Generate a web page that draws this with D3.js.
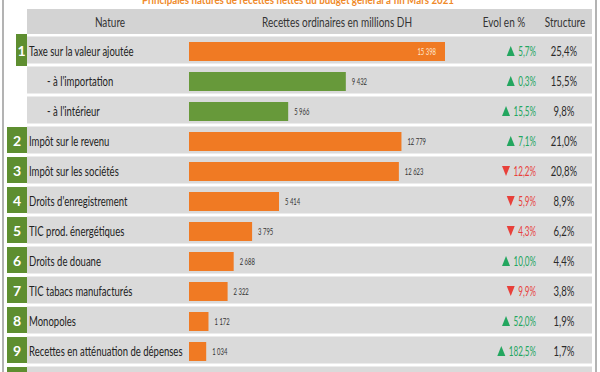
<!DOCTYPE html>
<html><head><meta charset="utf-8">
<script src="https://cdn.jsdelivr.net/npm/d3@7"></script>
<style>
html,body{margin:0;padding:0;background:#fff;}
svg{display:block;}
text{font-family:Lato,"Open Sans",sans-serif;}
</style></head>
<body><svg id="c" width="600" height="372"></svg>
<script>
const title = "Principales natures de recettes nettes du budget général à fin Mars 2021";
const headers = ["Nature", "Recettes ordinaires en millions DH", "Evol en %", "Structure"];
const categories = ["Taxe sur la valeur ajoutée", "- à l'importation", "- à l'intérieur",
  "Impôt sur le revenu", "Impôt sur les sociétés", "Droits d'enregistrement",
  "TIC prod. énergétiques", "Droits de douane", "TIC tabacs manufacturés",
  "Monopoles", "Recettes en atténuation de dépenses", ""];
const ranks = ["1", "", "", "2", "3", "4", "5", "6", "7", "8", "9", "10"];
const subRow = [false, true, true, false, false, false, false, false, false, false, false, false];
const values = [15398, 9432, 5966, 12779, 12623, 5414, 3795, 2688, 2322, 1172, 1034, 250];
const evol = [5.7, 0.3, 15.5, 7.1, -12.2, -5.9, -4.3, 10.0, -9.9, 52.0, 182.5, null];
const structure = [25.4, 15.5, 9.8, 21.0, 20.8, 8.9, 6.2, 4.4, 3.8, 1.9, 1.7, null];

const svg = d3.select("#c");
const ORANGE = "#F07A23", GREEN_BAR = "#67993A", GREEN_BOX = "#5E8E30",
      BAND = "#DADADA", UP = "#23A65F", DOWN = "#E8403A";
const fmt = v => Math.abs(v).toFixed(1).replace(".", ",") + "%";
const numFmt = v => d3.format(",")(v).replace(/,/g, " ");
// narrow text: placed at (px,py) and compressed horizontally by k
function place(sel, px, py, k) {
  return sel.attr("x", 0).attr("y", 0)
    .attr("transform", (d, j) => `translate(${px(d, j)},${py(d, j)}) scale(${k},1)`);
}

const idx = d3.range(categories.length);
const y = d3.scaleBand().domain(idx).range([35, 35 + 30 * categories.length]).padding(0);
const x = d3.scaleLinear().domain([0, 15398]).range([189, 445]);
const cy = i => y(i) + y.bandwidth() / 2;

// frame
svg.append("line").attr("x1", 3).attr("x2", 3).attr("y1", 0).attr("y2", 372).attr("stroke", "#9a9a9a").attr("stroke-width", 1.5);
svg.append("line").attr("x1", 596).attr("x2", 596).attr("y1", 0).attr("y2", 372).attr("stroke", "#9a9a9a").attr("stroke-width", 1.5);

// title
svg.append("text").attr("x", 298).attr("y", 4).attr("text-anchor", "middle")
  .attr("font-size", 11.5).attr("font-weight", "bold").attr("fill", "#F08A2A")
  .attr("textLength", 312).attr("lengthAdjust", "spacingAndGlyphs").text(title);

// header
svg.append("rect").attr("x", 27).attr("y", 9).attr("width", 565).attr("height", 25).attr("fill", "#D3D3D3");
const hx = [110, 337, 504, 565];
place(svg.selectAll("text.hd").data(headers).join("text").attr("class", "hd")
  .attr("dy", "0.35em").attr("text-anchor", "middle").attr("font-size", 13.5).attr("fill", "#333").text(h => h),
  (h, k) => hx[k], () => 22, 0.74);

// bands
svg.selectAll("rect.band").data(idx).join("rect").attr("class", "band")
  .attr("x", 27).attr("y", i => y(i) + 1.5).attr("width", 565).attr("height", y.bandwidth() - 3).attr("fill", BAND);

// number boxes
const boxed = idx.filter(i => ranks[i] !== "");
svg.selectAll("rect.box").data(boxed).join("rect").attr("class", "box")
  .attr("x", i => i === 0 ? 16 : 7).attr("y", i => i === 0 ? y(i) - 1 : y(i) + 2)
  .attr("width", i => i === 0 ? 11 : 20).attr("height", i => i === 0 ? 32 : 26).attr("fill", GREEN_BOX);
svg.selectAll("text.rank").data(boxed).join("text").attr("class", "rank")
  .attr("x", i => i === 0 ? 21.5 : 17).attr("y", i => cy(i) + 1).attr("dy", "0.35em").attr("text-anchor", "middle")
  .attr("font-size", 14).attr("font-weight", "bold").attr("fill", "#fff").text(i => ranks[i]);

// labels
place(svg.selectAll("text.lab").data(idx.filter(i => categories[i] !== "")).join("text").attr("class", "lab")
  .attr("dy", "0.35em").attr("font-size", 14).attr("fill", "#222").text(i => categories[i]),
  i => subRow[i] ? 47 : 29, i => cy(i) + 1, 0.68);

// bars
svg.selectAll("rect.bar").data(idx).join("rect").attr("class", "bar")
  .attr("x", x(0)).attr("y", i => cy(i) - 8).attr("height", 19)
  .attr("width", i => x(values[i]) - x(0)).attr("fill", i => subRow[i] ? GREEN_BAR : ORANGE);

// value labels
place(svg.selectAll("text.val").data(idx.filter(i => i < 11)).join("text").attr("class", "val")
  .attr("text-anchor", i => values[i] > 14000 ? "end" : "start")
  .attr("dy", "0.35em").attr("font-size", 9.5)
  .attr("fill", i => values[i] > 14000 ? "#fde7d2" : "#333").text(i => numFmt(values[i])),
  i => values[i] > 14000 ? x(values[i]) - 9 : x(values[i]) + 6, i => cy(i) + 2, 0.62);

// evolution
const ev = idx.filter(i => evol[i] !== null);
const EK = 0.58;
const evT = place(svg.selectAll("text.ev").data(ev).join("text").attr("class", "ev")
  .attr("dy", "0.35em").attr("text-anchor", "end")
  .attr("font-size", 14).attr("fill", i => evol[i] >= 0 ? UP : DOWN).text(i => fmt(evol[i])),
  () => 536, i => cy(i) + 1, EK);
evT.each(function(i) {
  const w = this.getComputedTextLength() * EK;
  const tx = 536 - w - 7.5, tY = cy(i) + 1;
  const up = evol[i] >= 0;
  const p = up ? `M${tx - 4},${tY + 5}L${tx + 4},${tY + 5}L${tx},${tY - 5}Z`
               : `M${tx - 4},${tY - 5}L${tx + 4},${tY - 5}L${tx},${tY + 5}Z`;
  svg.append("path").attr("d", p).attr("fill", up ? UP : DOWN);
});

// structure
place(svg.selectAll("text.st").data(idx.filter(i => structure[i] !== null)).join("text").attr("class", "st")
  .attr("dy", "0.35em").attr("text-anchor", "middle")
  .attr("font-size", 14).attr("fill", "#2a2a2a").text(i => fmt(structure[i])),
  () => 564, i => cy(i) + 1, 0.68);
</script></body></html>
